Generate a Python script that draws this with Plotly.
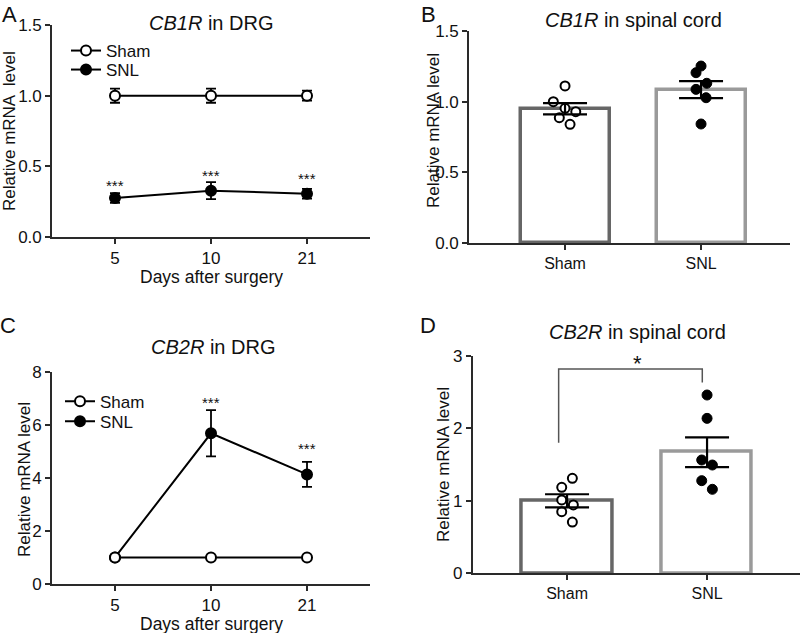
import plotly.graph_objects as go

# ---------------- data ----------------
days = ["5", "10", "21"]
day_pos = [1, 2, 3]

a_sham_mean = [1.0, 1.0, 1.0]
a_sham_sem = [0.05, 0.05, 0.035]
a_snl_mean = [0.276, 0.328, 0.306]
a_snl_sem = [0.035, 0.06, 0.034]
a_stars = ["***", "***", "***"]
a_star_y = [0.38, 0.45, 0.43]

c_sham_mean = [1.0, 1.0, 1.0]
c_sham_sem = [0.05, 0.05, 0.05]
c_snl_mean = [1.0, 5.68, 4.13]
c_snl_sem = [0.05, 0.87, 0.47]
c_stars = ["", "***", "***"]
c_star_y = [1.0, 6.93, 5.18]

groups = ["Sham", "SNL"]
group_pos = [0, 1]

b_mean = [0.95, 1.085]
b_sem = [0.04, 0.06]
b_sham_pts = [1.111, 1.000, 0.953, 0.929, 0.887, 0.840]
b_sham_jit = [0.0, -0.086, 0.0, 0.079, -0.042, 0.037]
b_snl_pts = [1.252, 1.205, 1.130, 1.087, 1.028, 0.842]
b_snl_jit = [0.0, -0.037, 0.042, -0.037, 0.037, 0.0]

d_mean = [1.0, 1.67]
d_sem = [0.09, 0.205]
d_sham_pts = [1.309, 1.185, 1.011, 0.942, 0.850, 0.707]
d_sham_jit = [0.038, -0.038, -0.038, 0.045, -0.038, 0.038]
d_snl_pts = [2.458, 2.136, 1.562, 1.493, 1.277, 1.158]
d_snl_jit = [0.0, 0.0, -0.038, 0.038, -0.038, 0.038]
d_bracket_x = [-0.06, -0.06, 0.966, 0.966]
d_bracket_y = [1.80, 2.816, 2.816, 2.63]
d_sig = "*"
d_sig_xy = (0.5, 2.96)

FONT = "Liberation Sans, Arial, sans-serif"
W, H = 800, 633
AX = "#2a2a2a"
SHAM_BAR = "#666666"
SNL_BAR = "#9a9a9a"


def px_x(p):
    return p / W


def px_y(p):
    return 1 - p / H


fig = go.Figure()


def line_trace(xa, ya, means, sems, name, filled, legend):
    fig.add_trace(go.Scatter(
        x=day_pos, y=means, name=name, mode="lines+markers",
        line=dict(color="black", width=2),
        marker=dict(symbol="circle", size=10, color="black" if filled else "white",
                    line=dict(color="black", width=2)),
        error_y=dict(type="data", array=sems, color="black", thickness=1.8, width=5),
        xaxis=xa, yaxis=ya, legend=legend))


# -------- Panel A / C (SNL first so Sham circles sit on top) --------
line_trace("x", "y", a_snl_mean, a_snl_sem, "SNL", True, "legend3")
line_trace("x", "y", a_sham_mean, a_sham_sem, "Sham", False, "legend")
line_trace("x3", "y3", c_snl_mean, c_snl_sem, "SNL", True, "legend4")
line_trace("x3", "y3", c_sham_mean, c_sham_sem, "Sham", False, "legend2")


# -------- Bar panels --------
def bar_panel(xa, ya, means, sems, pts_sham, jit_sham, pts_snl, jit_snl, width):
    fig.add_trace(go.Bar(
        x=group_pos, y=means, width=width,
        marker=dict(color="white", line=dict(color=[SHAM_BAR, SNL_BAR], width=3.5)),
        showlegend=False, xaxis=xa, yaxis=ya))
    fig.add_trace(go.Scatter(
        x=[group_pos[0] + j for j in jit_sham], y=pts_sham, mode="markers",
        marker=dict(symbol="circle", size=9, color="white", line=dict(color="black", width=2)),
        showlegend=False, xaxis=xa, yaxis=ya))
    fig.add_trace(go.Scatter(
        x=[group_pos[1] + j for j in jit_snl], y=pts_snl, mode="markers",
        marker=dict(symbol="circle", size=10, color="black", line=dict(color="black", width=1)),
        showlegend=False, xaxis=xa, yaxis=ya))
    fig.add_trace(go.Scatter(
        x=group_pos, y=means, mode="markers", marker=dict(size=0.1, color="rgba(0,0,0,0)"),
        error_y=dict(type="data", array=sems, color="black", thickness=2.2, width=22),
        showlegend=False, xaxis=xa, yaxis=ya))


bar_panel("x2", "y2", b_mean, b_sem, b_sham_pts, b_sham_jit, b_snl_pts, b_snl_jit, 0.654)
bar_panel("x4", "y4", d_mean, d_sem, d_sham_pts, d_sham_jit, d_snl_pts, d_snl_jit, 0.645)

fig.add_trace(go.Scatter(
    x=d_bracket_x, y=d_bracket_y, mode="lines", line=dict(color="#555555", width=1.5),
    showlegend=False, xaxis="x4", yaxis="y4", cliponaxis=False))

# -------- axes --------
tickfont = dict(family=FONT, size=17, color="#111")
common = dict(showline=True, linecolor=AX, linewidth=1.6, ticks="outside",
              ticklen=5, tickwidth=1.6, tickcolor=AX, showgrid=False, zeroline=False,
              tickfont=tickfont, fixedrange=True)

fig.update_layout(
    xaxis=dict(domain=[px_x(52), px_x(370)], anchor="y", range=[0.344, 3.656],
               tickvals=day_pos, ticktext=days, **common),
    yaxis=dict(domain=[px_y(237), px_y(25)], anchor="x", range=[0, 1.5],
               tickvals=[0, 0.5, 1.0, 1.5], tickformat=".1f", **common),
    xaxis2=dict(domain=[px_x(469), px_x(790)], anchor="y2", range=[-0.706, 1.654],
                tickvals=group_pos, ticktext=groups, **common),
    yaxis2=dict(domain=[px_y(243), px_y(31)], anchor="x2", range=[0, 1.5],
                tickvals=[0, 0.5, 1.0, 1.5], tickformat=".1f", **common),
    xaxis3=dict(domain=[px_x(52), px_x(370)], anchor="y3", range=[0.344, 3.656],
                tickvals=day_pos, ticktext=days, **common),
    yaxis3=dict(domain=[px_y(584), px_y(371.7)], anchor="x3", range=[0, 8],
                tickvals=[0, 2, 4, 6, 8], **common),
    xaxis4=dict(domain=[px_x(472.7), 1.0], anchor="y4", range=[-0.674, 1.664],
                tickvals=group_pos, ticktext=groups, **common),
    yaxis4=dict(domain=[px_y(573.3), px_y(355.7)], anchor="x4", range=[0, 3],
                tickvals=[0, 1, 2, 3], **common),
)
for ax in ["xaxis2", "xaxis4"]:
    fig.layout[ax].tickfont.size = 16

legend_common = dict(font=dict(family=FONT, size=17, color="#111"), bgcolor="rgba(0,0,0,0)",
                     xanchor="left", yanchor="top", itemwidth=30)
fig.update_layout(
    legend=dict(x=px_x(66), y=px_y(33), **legend_common),
    legend3=dict(x=px_x(66), y=px_y(52), **legend_common),
    legend2=dict(x=px_x(60), y=px_y(383.7), **legend_common),
    legend4=dict(x=px_x(60), y=px_y(403.7), **legend_common),
)

# -------- annotations --------
ann = []


def text(x, y, s, size, xref="paper", yref="paper", yanchor="middle", **kw):
    ann.append(dict(x=x, y=y, xref=xref, yref=yref, text=s, showarrow=False,
                    xanchor="center", yanchor=yanchor,
                    font=dict(family=FONT, size=size, color="#111"), **kw))


# panel letters
text(px_x(9), px_y(0), "A", 22, yanchor="top")
text(px_x(428), px_y(0), "B", 22, yanchor="top")
text(px_x(8), px_y(326), "C", 22)
text(px_x(428), px_y(325), "D", 22)
# titles
text(px_x(211), px_y(23), "<i>CB1R</i> in DRG", 20)
text(px_x(633), px_y(20), "<i>CB1R</i> in spinal cord", 20)
text(px_x(213), px_y(347), "<i>CB2R</i> in DRG", 20)
text(px_x(637), px_y(331.7), "<i>CB2R</i> in spinal cord", 20)
# axis titles
text(px_x(9), px_y(131), "Relative mRNA  level", 17, textangle=-90)
text(px_x(433), px_y(131), "Relative mRNA level", 17, textangle=-90)
text(px_x(25), px_y(480), "Relative mRNA level", 17, textangle=-90)
text(px_x(443), px_y(465), "Relative mRNA level", 17, textangle=-90)
text(px_x(211), px_y(277.5), "Days after surgery", 17.5)
text(px_x(211), px_y(623.5), "Days after surgery", 17.5)
# significance stars
for xp, yv, s in zip(day_pos, a_star_y, a_stars):
    if s:
        ann.append(dict(x=xp, y=yv, xref="x", yref="y", text=s, showarrow=False,
                        yshift=-2, font=dict(family=FONT, size=15, color="#111")))
for xp, yv, s in zip(day_pos, c_star_y, c_stars):
    if s:
        ann.append(dict(x=xp, y=yv, xref="x3", yref="y3", text=s, showarrow=False,
                        yshift=-2, font=dict(family=FONT, size=15, color="#111")))
ann.append(dict(x=d_sig_xy[0], y=d_sig_xy[1], xref="x4", yref="y4", text=d_sig,
                showarrow=False, yshift=-5, font=dict(family=FONT, size=22, color="#111")))

fig.update_layout(
    annotations=ann,
    width=W, height=H,
    margin=dict(l=0, r=0, t=0, b=0, autoexpand=False),
    paper_bgcolor="white", plot_bgcolor="white",
    font=dict(family=FONT, color="#111"),
    showlegend=True,
    bargap=0,
)

fig.write_html("out.html", config={"displayModeBar": False},
               post_script="document.body.style.margin='0';document.body.style.overflow='hidden';")
